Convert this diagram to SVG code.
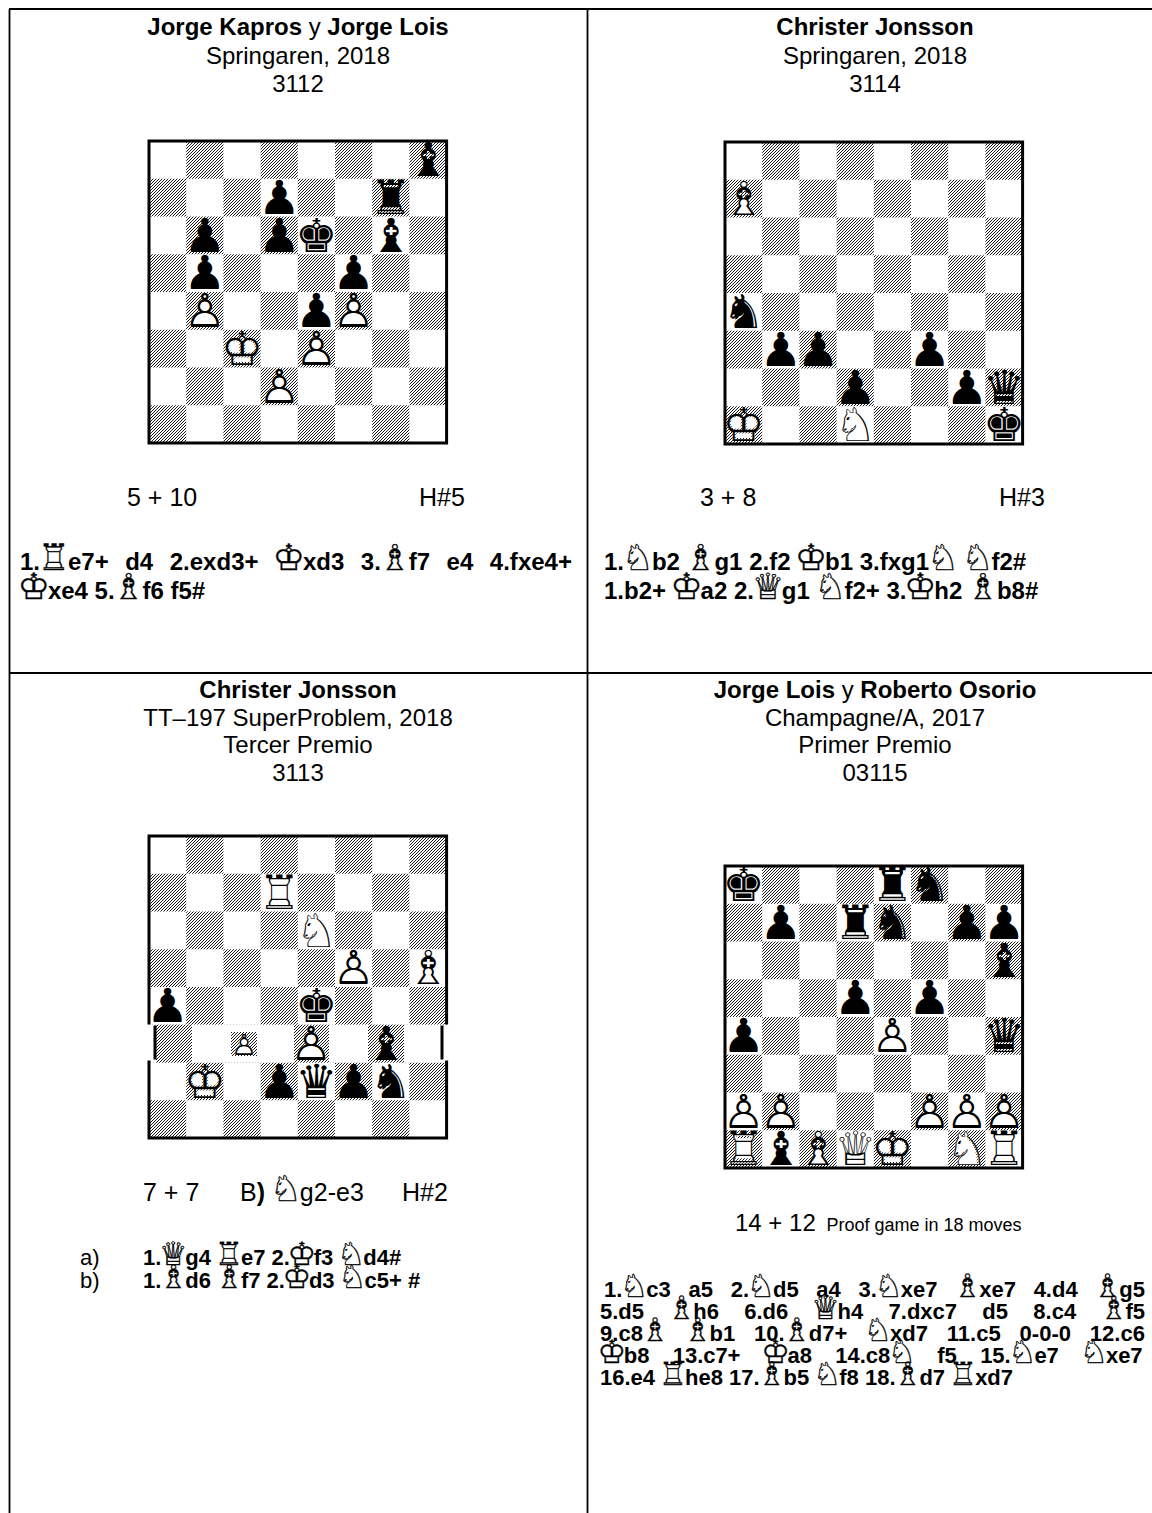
<svg xmlns="http://www.w3.org/2000/svg" width="1152" height="1513" viewBox="0 0 1152 1513">
<style>
.t{font-family:"Liberation Sans",Arial,sans-serif;font-size:22px;fill:#000}
.H{font-size:24px}
.L{font-size:24px}
.N{font-size:25px}
.c{text-anchor:middle}
.b{font-weight:bold}
.f{font-family:"DejaVu Sans",sans-serif;font-weight:normal;font-size:32px;letter-spacing:-2.4px;stroke:#000;stroke-width:0.35}
.F{font-family:"DejaVu Sans",sans-serif;font-weight:normal;font-size:36px;letter-spacing:-2.2px;stroke:#000;stroke-width:0.35}
.sm{font-size:18px}
.pc{font-family:"DejaVu Sans",sans-serif;font-size:47px;text-anchor:middle;fill:#000}
.bg{fill:#fff}
.ln{stroke:#000;stroke-width:1.8;fill:none}
.fr{stroke:#000;stroke-width:3;fill:none;stroke-linecap:square}
</style>
<defs>
<pattern id="h" patternUnits="userSpaceOnUse" width="3" height="3"><path d="M-1,1L1,-1M0,3L3,0M2,4L4,2" stroke="#000" stroke-width="0.9"/></pattern>
<path id="dk" fill="url(#h)" d="M37.2 0h37.2v37.75h-37.2zM111.6 0h37.2v37.75h-37.2zM186 0h37.2v37.75h-37.2zM260.4 0h37.2v37.75h-37.2zM0 37.75h37.2v37.75h-37.2zM74.4 37.75h37.2v37.75h-37.2zM148.8 37.75h37.2v37.75h-37.2zM223.2 37.75h37.2v37.75h-37.2zM37.2 75.5h37.2v37.75h-37.2zM111.6 75.5h37.2v37.75h-37.2zM186 75.5h37.2v37.75h-37.2zM260.4 75.5h37.2v37.75h-37.2zM0 113.25h37.2v37.75h-37.2zM74.4 113.25h37.2v37.75h-37.2zM148.8 113.25h37.2v37.75h-37.2zM223.2 113.25h37.2v37.75h-37.2zM37.2 151h37.2v37.75h-37.2zM111.6 151h37.2v37.75h-37.2zM186 151h37.2v37.75h-37.2zM260.4 151h37.2v37.75h-37.2zM0 188.75h37.2v37.75h-37.2zM74.4 188.75h37.2v37.75h-37.2zM148.8 188.75h37.2v37.75h-37.2zM223.2 188.75h37.2v37.75h-37.2zM37.2 226.5h37.2v37.75h-37.2zM111.6 226.5h37.2v37.75h-37.2zM186 226.5h37.2v37.75h-37.2zM260.4 226.5h37.2v37.75h-37.2zM0 264.25h37.2v37.75h-37.2zM74.4 264.25h37.2v37.75h-37.2zM148.8 264.25h37.2v37.75h-37.2zM223.2 264.25h37.2v37.75h-37.2z"/>
<g id="WK"><text class="pc bg">♚</text><text class="pc">♔</text></g>
<g id="WQ"><text class="pc bg">♛</text><text class="pc">♕</text></g>
<g id="WR"><text class="pc bg">♜</text><text class="pc">♖</text></g>
<g id="WB"><text class="pc bg">♝</text><text class="pc">♗</text></g>
<g id="WN"><text class="pc bg">♞</text><text class="pc">♘</text></g>
<g id="WP"><text class="pc bg">♟</text><text class="pc">♙</text></g>
<g id="BK"><text class="pc">♚</text></g>
<g id="BQ"><text class="pc">♛</text></g>
<g id="BR"><text class="pc">♜</text></g>
<g id="BB"><text class="pc">♝</text></g>
<g id="BN"><text class="pc">♞</text></g>
<g id="BP"><text class="pc">♟</text></g>
</defs>
<rect width="1152" height="1513" fill="#fff"/>

<g id="table">
<path class="ln" d="M9 9H1152M9.5 9V1513M587.5 9V1513M9 673H1152"/>
</g>

<g id="cell-3112">
<text class="t H c" x="298" y="35"><tspan class="b">Jorge Kapros</tspan> y <tspan class="b">Jorge Lois</tspan></text>
<text class="t H c" x="298" y="64">Springaren, 2018</text>
<text class="t H c" x="298" y="92">3112</text>
<g id="board-3112" transform="translate(149,141)">
<use href="#dk"/>
<use href="#BB" x="279" y="35"/>
<use href="#BP" x="130.2" y="72.75"/>
<use href="#BR" x="241.8" y="72.75"/>
<use href="#BP" x="55.8" y="110.5"/>
<use href="#BP" x="130.2" y="110.5"/>
<use href="#BK" x="167.4" y="110.5"/>
<use href="#BB" x="241.8" y="110.5"/>
<use href="#BP" x="55.8" y="148.25"/>
<use href="#BP" x="204.6" y="148.25"/>
<use href="#WP" x="55.8" y="186"/>
<use href="#BP" x="167.4" y="186"/>
<use href="#WP" x="204.6" y="186"/>
<use href="#WK" x="93" y="223.75"/>
<use href="#WP" x="167.4" y="223.75"/>
<use href="#WP" x="130.2" y="261.5"/>
<rect class="fr" x="0" y="0" width="297.6" height="302"/>
</g>
<text class="t N" x="127" y="506">5 + 10</text>
<text class="t N" x="419" y="506">H#5</text>
<text class="t L b" x="20" y="570" style="word-spacing:9.8px" textLength="552" lengthAdjust="spacing">1.<tspan class="F" dx="-2.2">♖</tspan>e7+ d4 2.exd3+ <tspan class="F" dx="-2.2">♔</tspan>xd3 3.<tspan class="F" dx="-2.2">♗</tspan>f7 e4 4.fxe4+</text>
<text class="t L b" x="20" y="599"><tspan class="F" dx="-2.2">♔</tspan>xe4 5.<tspan class="F" dx="-2.2">♗</tspan>f6 f5#</text>
</g>

<g id="cell-3114">
<text class="t H c b" x="875" y="35">Christer Jonsson</text>
<text class="t H c" x="875" y="64">Springaren, 2018</text>
<text class="t H c" x="875" y="92">3114</text>
<g id="board-3114" transform="translate(725,142)">
<use href="#dk"/>
<use href="#WB" x="18.6" y="72.75"/>
<use href="#BN" x="18.6" y="186"/>
<use href="#BP" x="55.8" y="223.75"/>
<use href="#BP" x="93" y="223.75"/>
<use href="#BP" x="204.6" y="223.75"/>
<use href="#BP" x="130.2" y="261.5"/>
<use href="#BP" x="241.8" y="261.5"/>
<use href="#BQ" x="279" y="261.5"/>
<use href="#WK" x="18.6" y="299.25"/>
<use href="#WN" x="130.2" y="299.25"/>
<use href="#BK" x="279" y="299.25"/>
<rect class="fr" x="0" y="0" width="297.6" height="302"/>
</g>
<text class="t N" x="700" y="506">3 + 8</text>
<text class="t N" x="999" y="506">H#3</text>
<text class="t L b" x="604" y="570">1.<tspan class="F" dx="-2.2">♘</tspan>b2 <tspan class="F" dx="-2.2">♗</tspan>g1 2.f2 <tspan class="F" dx="-2.2">♔</tspan>b1 3.fxg1<tspan class="F" dx="-2.2">♘</tspan> <tspan class="F" dx="-2.2">♘</tspan>f2#</text>
<text class="t L b" x="604" y="599">1.b2+ <tspan class="F" dx="-2.2">♔</tspan>a2 2.<tspan class="F" dx="-2.2">♕</tspan>g1 <tspan class="F" dx="-2.2">♘</tspan>f2+ 3.<tspan class="F" dx="-2.2">♔</tspan>h2 <tspan class="F" dx="-2.2">♗</tspan>b8#</text>
</g>

<g id="cell-3113">
<text class="t H c b" x="298" y="698">Christer Jonsson</text>
<text class="t H c" x="298" y="726">TT–197 SuperProblem, 2018</text>
<text class="t H c" x="298" y="753">Tercer Premio</text>
<text class="t H c" x="298" y="781">3113</text>
<g id="board-3113" transform="translate(149,836)">
<use href="#dk"/>
<rect x="0" y="188.75" width="297.6" height="37.75" fill="#fff"/>
<path fill="url(#h)" d="M7 188.75h36v37.75h-36zM82 196h26v24h-26zM145 188.75h35v37.75h-35zM219 188.75h36v37.75h-36z"/>
<use href="#WR" x="130.2" y="72.75"/>
<use href="#WN" x="167.4" y="110.5"/>
<use href="#WP" x="204.6" y="148.25"/>
<use href="#WB" x="279" y="148.25"/>
<use href="#BP" x="18.6" y="186"/>
<use href="#BK" x="167.4" y="186"/>
<use href="#WP" transform="translate(95,219) scale(0.62)"/>
<use href="#WP" x="162" y="223.75"/>
<use href="#BB" x="237" y="223.75"/>
<use href="#WK" x="55.8" y="261.5"/>
<use href="#BP" x="130.2" y="261.5"/>
<use href="#BQ" x="167.4" y="261.5"/>
<use href="#BP" x="204.6" y="261.5"/>
<use href="#BN" x="241.8" y="261.5"/>
<path class="fr" d="M0 0H297.6M0 302H297.6M0 0V187M0 226V302M297.6 0V187M297.6 226V302"/>
<path class="fr" style="stroke-linecap:butt" d="M6 189.5V223.5M293 189.5V223.5"/>
</g>
<text class="t N" x="143" y="1201">7 + 7</text>
<text class="t N" x="240" y="1201">B<tspan class="b">)</tspan> <tspan class="F" dx="-2.2">♘</tspan>g2-e3</text>
<text class="t N" x="402" y="1201">H#2</text>
<text class="t" x="80" y="1265">a)</text>
<text class="t b" x="143" y="1265">1.<tspan class="f" dx="-2.4">♕</tspan>g4 <tspan class="f" dx="-2.4">♖</tspan>e7 2.<tspan class="f" dx="-2.4">♔</tspan>f3 <tspan class="f" dx="-2.4">♘</tspan>d4#</text>
<text class="t" x="80" y="1288">b)</text>
<text class="t b" x="143" y="1288">1.<tspan class="f" dx="-2.4">♗</tspan>d6 <tspan class="f" dx="-2.4">♗</tspan>f7 2.<tspan class="f" dx="-2.4">♔</tspan>d3 <tspan class="f" dx="-2.4">♘</tspan>c5+ #</text>
</g>

<g id="cell-03115">
<text class="t H c" x="875" y="698"><tspan class="b">Jorge Lois</tspan> y <tspan class="b">Roberto Osorio</tspan></text>
<text class="t H c" x="875" y="726">Champagne/A, 2017</text>
<text class="t H c" x="875" y="753">Primer Premio</text>
<text class="t H c" x="875" y="781">03115</text>
<g id="board-03115" transform="translate(725,866)">
<use href="#dk"/>
<use href="#BK" x="18.6" y="35"/>
<use href="#BR" x="167.4" y="35"/>
<use href="#BN" x="204.6" y="35"/>
<use href="#BP" x="55.8" y="72.75"/>
<use href="#BR" x="130.2" y="72.75"/>
<use href="#BN" x="167.4" y="72.75"/>
<use href="#BP" x="241.8" y="72.75"/>
<use href="#BP" x="279" y="72.75"/>
<use href="#BB" x="279" y="110.5"/>
<use href="#BP" x="130.2" y="148.25"/>
<use href="#BP" x="204.6" y="148.25"/>
<use href="#BP" x="18.6" y="186"/>
<use href="#WP" x="167.4" y="186"/>
<use href="#BQ" x="279" y="186"/>
<use href="#WP" x="18.6" y="261.5"/>
<use href="#WP" x="55.8" y="261.5"/>
<use href="#WP" x="204.6" y="261.5"/>
<use href="#WP" x="241.8" y="261.5"/>
<use href="#WP" x="279" y="261.5"/>
<use href="#WR" x="18.6" y="299.25"/>
<use href="#BB" x="55.8" y="299.25"/>
<use href="#WB" x="93" y="299.25"/>
<use href="#WQ" x="130.2" y="299.25"/>
<use href="#WK" x="167.4" y="299.25"/>
<use href="#WN" x="241.8" y="299.25"/>
<use href="#WR" x="279" y="299.25"/>
<rect class="fr" x="0" y="0" width="297.6" height="302"/>
</g>
<text class="t L" x="735" y="1231">14 + 12 <tspan class="sm" dx="4">Proof game in 18 moves</tspan></text>
<text class="t b" x="604" y="1297" style="word-spacing:11.6px" textLength="541" lengthAdjust="spacing">1.<tspan class="f" dx="-2.4">♘</tspan>c3 a5 2.<tspan class="f" dx="-2.4">♘</tspan>d5 a4 3.<tspan class="f" dx="-2.4">♘</tspan>xe7 <tspan class="f" dx="-2.4">♗</tspan>xe7 4.d4 <tspan class="f" dx="-2.4">♗</tspan>g5</text>
<text class="t b" x="600" y="1319" style="word-spacing:19.2px" textLength="545" lengthAdjust="spacing">5.d5 <tspan class="f" dx="-2.4">♗</tspan>h6 6.d6 <tspan class="f" dx="-2.4">♕</tspan>h4 7.dxc7 d5 8.c4 <tspan class="f" dx="-2.4">♗</tspan>f5</text>
<text class="t b" x="600" y="1341" style="word-spacing:12.6px" textLength="545" lengthAdjust="spacing">9.c8<tspan class="f" dx="-2.4">♗</tspan> <tspan class="f" dx="-2.4">♗</tspan>b1 10.<tspan class="f" dx="-2.4">♗</tspan>d7+ <tspan class="f" dx="-2.4">♘</tspan>xd7 11.c5 0-0-0 12.c6</text>
<text class="t b" x="600" y="1363" style="word-spacing:17.3px" textLength="545" lengthAdjust="spacing"><tspan class="f" dx="-2.4">♔</tspan>b8 13.c7+ <tspan class="f" dx="-2.4">♔</tspan>a8 14.c8<tspan class="f" dx="-2.4">♘</tspan> f5 15.<tspan class="f" dx="-2.4">♘</tspan>e7 <tspan class="f" dx="-2.4">♘</tspan>xe7</text>
<text class="t b" x="600" y="1385">16.e4 <tspan class="f" dx="-2.4">♖</tspan>he8 17.<tspan class="f" dx="-2.4">♗</tspan>b5 <tspan class="f" dx="-2.4">♘</tspan>f8 18.<tspan class="f" dx="-2.4">♗</tspan>d7 <tspan class="f" dx="-2.4">♖</tspan>xd7</text>
</g>
</svg>
